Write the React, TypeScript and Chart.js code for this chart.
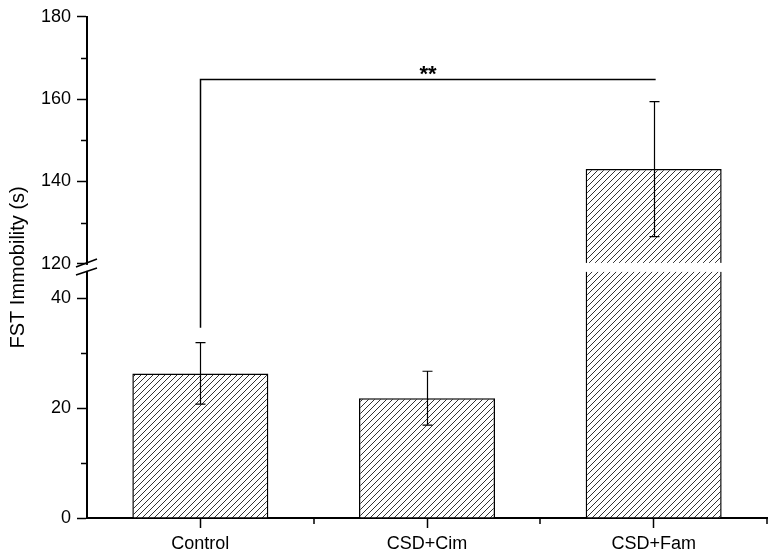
import React, { useEffect, useRef } from "react";
import { Chart, registerables } from "chart.js";

Chart.register(...registerables);

// ---- data ----
const categories = ["Control", "CSD+Cim", "CSD+Fam"];
const means = [26.3, 21.8, 143.0];
const errors = [5.6, 4.9, 16.4];
const lowTicks = [0, 20, 40];
const highTicks = [120, 140, 160, 180];
const lowMinorTicks = [10, 30];
const highMinorTicks = [130, 150, 170];
const lowRange = [0, 45.5];
const highRange = [119, 180];
const signifFrom = 0;
const signifTo = 2;
const signifLabel = "**";
const signifLevel = 164.8; // on the upper (high) axis
const signifLegBottom = 34.6; // on the lower axis
const yTitle = "FST Immobility (s)";

const FONT = "'Liberation Sans', Arial, sans-serif";

function makeHatch(): CanvasPattern | string {
  const s = 6;
  const c = document.createElement("canvas");
  c.width = s;
  c.height = s;
  const ctx = c.getContext("2d");
  if (!ctx) return "#fff";
  ctx.fillStyle = "#fff";
  ctx.fillRect(0, 0, s, s);
  ctx.strokeStyle = "#333";
  ctx.lineWidth = 1;
  ctx.beginPath();
  ctx.moveTo(0, s);
  ctx.lineTo(s, 0);
  ctx.moveTo(-1, 1);
  ctx.lineTo(1, -1);
  ctx.moveTo(s - 1, s + 1);
  ctx.lineTo(s + 1, s - 1);
  ctx.stroke();
  return ctx.createPattern(c, "repeat") || "#fff";
}

const brokenAxisPlugin = {
  id: "brokenAxisExtras",
  afterDraw(chart: any) {
    const ctx = chart.ctx as CanvasRenderingContext2D;
    const x = chart.scales.x;
    const yl = chart.scales.yLow;
    const yh = chart.scales.yHigh;
    const area = chart.chartArea;
    const ax = yl.right;
    const B = yh.bottom;
    ctx.save();

    // white break gap over bars and axis line
    ctx.fillStyle = "#fff";
    ctx.fillRect(ax + 1.5, B - 5, area.right - ax, 9);
    ctx.fillRect(ax - 2, B - 3, 4, 6);

    // break slashes
    ctx.strokeStyle = "#000";
    ctx.lineWidth = 1.6;
    ctx.beginPath();
    ctx.moveTo(ax - 11, B - 1);
    ctx.lineTo(ax + 10, B - 9);
    ctx.moveTo(ax - 11, B + 7);
    ctx.lineTo(ax + 10, B);
    ctx.stroke();

    // minor ticks y
    ctx.lineWidth = 1.5;
    ctx.beginPath();
    lowMinorTicks.forEach((v) => {
      const py = Math.round(yl.getPixelForValue(v)) + 0.5;
      ctx.moveTo(ax - 6, py);
      ctx.lineTo(ax, py);
    });
    highMinorTicks.forEach((v) => {
      const py = Math.round(yh.getPixelForValue(v)) + 0.5;
      ctx.moveTo(ax - 6, py);
      ctx.lineTo(ax, py);
    });
    // minor ticks x at category boundaries
    const step = x.getPixelForValue(1) - x.getPixelForValue(0);
    categories.forEach((_, i) => {
      const px = Math.round(x.getPixelForValue(i) + step / 2);
      ctx.moveTo(px, area.bottom);
      ctx.lineTo(px, area.bottom + 6);
    });
    ctx.stroke();

    // error bars
    ctx.strokeStyle = "#000";
    ctx.lineWidth = 1.2;
    means.forEach((v, i) => {
      const sc = v > lowRange[1] ? yh : yl;
      const px = Math.round(x.getPixelForValue(i)) + 0.5;
      const t = sc.getPixelForValue(v + errors[i]);
      const b = sc.getPixelForValue(v - errors[i]);
      ctx.beginPath();
      ctx.moveTo(px, t);
      ctx.lineTo(px, b);
      ctx.moveTo(px - 5, t);
      ctx.lineTo(px + 5, t);
      ctx.moveTo(px - 5, b);
      ctx.lineTo(px + 5, b);
      ctx.stroke();
    });

    // significance bracket
    const xa = Math.round(x.getPixelForValue(signifFrom)) + 0.5;
    const xb = x.getPixelForValue(signifTo) + 2;
    const yTop = Math.round(yh.getPixelForValue(signifLevel)) + 0.5;
    const yLeg = yl.getPixelForValue(signifLegBottom);
    ctx.lineWidth = 1.5;
    ctx.beginPath();
    ctx.moveTo(xa, yLeg);
    ctx.lineTo(xa, yTop);
    ctx.lineTo(xb, yTop);
    ctx.stroke();

    ctx.fillStyle = "#000";
    ctx.font = `bold 22px ${FONT}`;
    ctx.textAlign = "center";
    ctx.textBaseline = "alphabetic";
    ctx.fillText(signifLabel, (xa + xb) / 2, yTop + 1.5);

    ctx.restore();
  },
};

export default function App() {
  const ref = useRef<HTMLCanvasElement | null>(null);

  useEffect(() => {
    if (!ref.current) return;
    const hatch = makeHatch();
    const lowData = means.map((v) => Math.min(v, lowRange[1]));
    const highData = means.map((v) => (v > highRange[0] ? [highRange[0], v] : null));

    const tickFont = { family: FONT, size: 18 };
    const yCommon = (ticksArr: number[]) => ({
      type: "linear" as const,
      position: "left" as const,
      stack: "ybroken",
      afterBuildTicks: (s: any) => {
        s.ticks = ticksArr.map((v) => ({ value: v }));
      },
      afterFit: (s: any) => {
        s.width = 57;
      },
      grid: {
        drawOnChartArea: false,
        drawTicks: true,
        tickLength: 10,
        tickWidth: 1.5,
        tickColor: "#000",
      },
      border: { display: true, color: "#000", width: 2 },
      ticks: {
        color: "#000",
        font: tickFont,
        padding: 6,
        callback: (v: any) => String(v),
      },
    });

    const chart = new Chart(ref.current, {
      type: "bar",
      data: {
        labels: categories,
        datasets: [
          {
            data: lowData as any,
            yAxisID: "yLow",
            backgroundColor: hatch as any,
            borderColor: "#000",
            borderWidth: 1.5,
            grouped: false,
            barPercentage: 0.6,
            categoryPercentage: 1,
          },
          {
            data: highData as any,
            yAxisID: "yHigh",
            backgroundColor: hatch as any,
            borderColor: "#000",
            borderWidth: 1.5,
            grouped: false,
            barPercentage: 0.6,
            categoryPercentage: 1,
          },
        ],
      },
      options: {
        responsive: false,
        animation: false,
        devicePixelRatio: 1,
        layout: { padding: { left: 0, right: 5, top: 13, bottom: 0 } },
        plugins: {
          legend: { display: false },
          tooltip: { enabled: false },
          title: {
            display: true,
            position: "left",
            text: yTitle,
            fullSize: false,
            color: "#000",
            font: { family: FONT, size: 20, weight: "normal" },
            padding: { top: 6, bottom: 0 },
          },
        },
        scales: {
          x: {
            type: "category",
            offset: true,
            afterFit: (s: any) => {
              s.height = 37;
            },
            grid: {
              offset: false,
              drawOnChartArea: false,
              tickLength: 10,
              tickWidth: 1.5,
              tickColor: "#000",
            },
            border: { display: true, color: "#000", width: 2 },
            ticks: { color: "#000", font: tickFont, padding: 5, maxRotation: 0 },
          },
          yLow: {
            ...yCommon(lowTicks),
            min: lowRange[0],
            max: lowRange[1],
            stackWeight: 252,
            weight: 0,
          },
          yHigh: {
            ...yCommon(highTicks),
            min: highRange[0],
            max: highRange[1],
            stackWeight: 253,
            weight: 1,
          },
        } as any,
      },
      plugins: [brokenAxisPlugin],
    });
    return () => chart.destroy();
  }, []);

  return (
    <div style={{ position: "absolute", left: 0, top: 0, width: 772, height: 555, background: "#fff" }}>
      <canvas ref={ref} width={772} height={555} style={{ display: "block" }} />
    </div>
  );
}
